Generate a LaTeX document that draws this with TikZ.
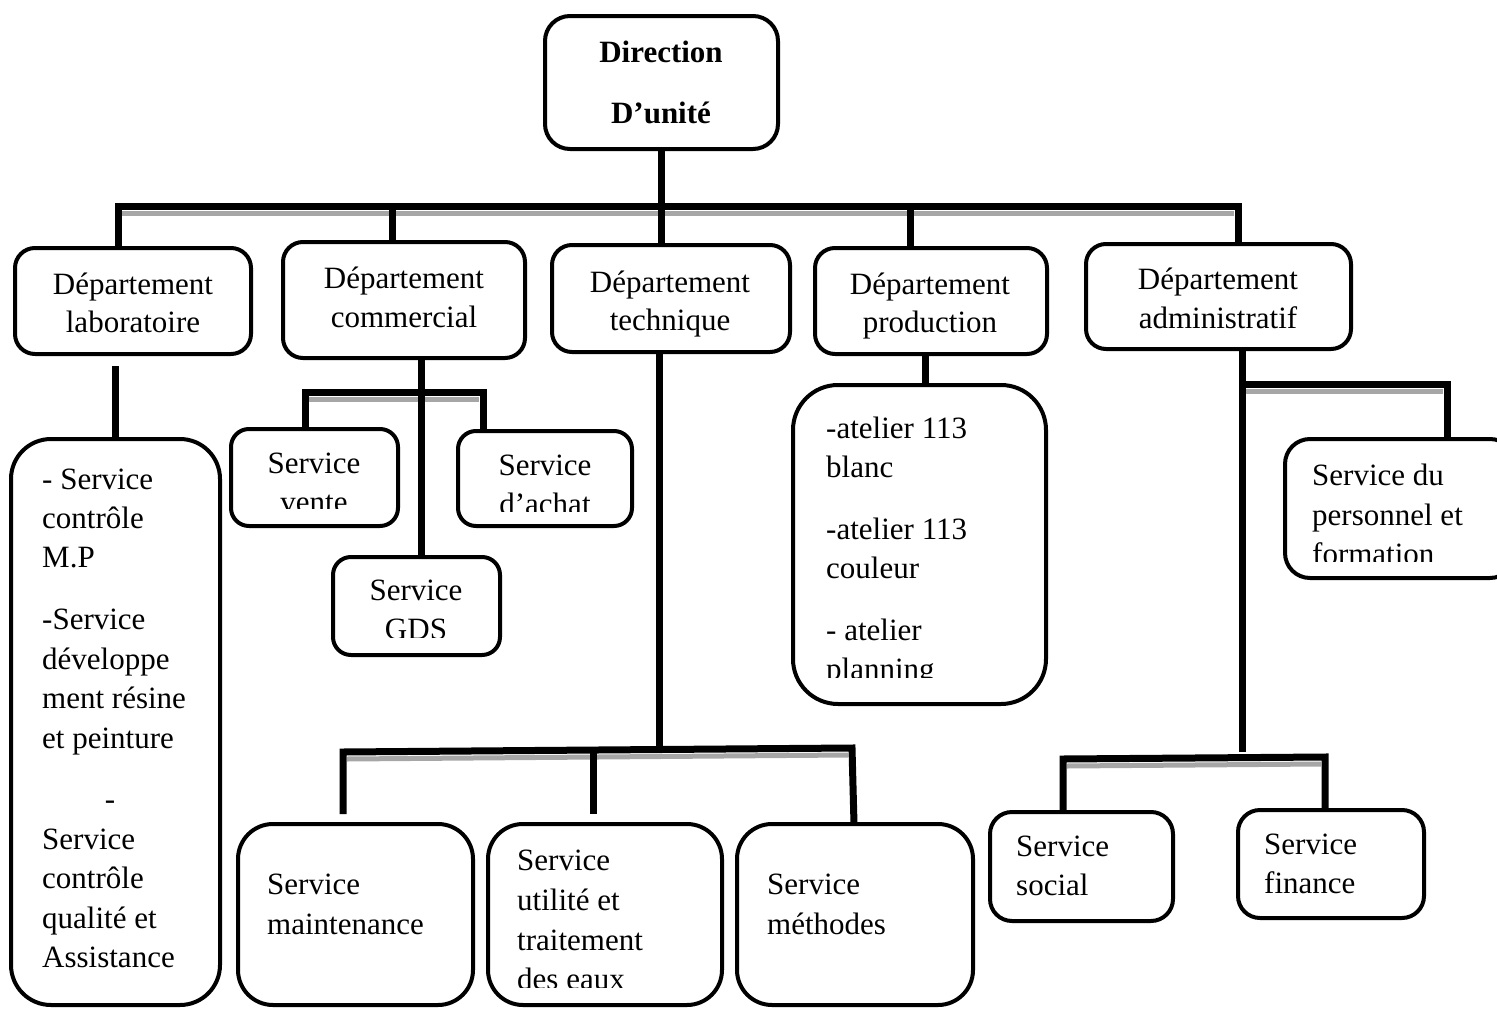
\documentclass[tikz,border=0pt]{standalone}
\usepackage{fontspec}
\setmainfont{Liberation Serif}
\newcommand\bx[6]{\node[box, rounded corners=#6, minimum width={#4-#2}, minimum height={#5-#3}] (#1) at ({(#2+#4)/2},{(#3+#5)/2}) {};}
\begin{document}
\begin{tikzpicture}[x=1pt,y=-1pt,
 box/.style={draw, line width=4pt, rectangle, inner sep=0pt},
 conn/.style={line width=7pt, line join=miter},
 shad/.style={line width=5pt, draw=black!35},
 txt/.style={font=\fontsize{31}{39}\selectfont, inner sep=0pt},
 bt/.style={font=\fontsize{31}{39}\selectfont\bfseries, inner sep=0pt}]
\useasboundingbox (0,0) rectangle (1497,1009);
% boxes
\bx{dir}{545}{16}{778}{149}{25}
\bx{dlab}{15}{248}{251}{354}{20}
\bx{dcom}{283}{242}{525}{358}{20}
\bx{dtech}{552}{245}{790}{352}{20}
\bx{dprod}{815}{248}{1047}{354}{20}
\bx{dadm}{1086}{244}{1351}{349}{20}
\bx{vente}{231}{429}{398}{526}{18}
\bx{achat}{458}{431}{632}{526}{18}
\bx{gds}{333}{557}{500}{655}{18}
\bx{lab}{11}{439}{220}{1005}{40}
\bx{prod}{793}{385}{1046}{704}{45}
\bx{pers}{1285}{439}{1515}{578}{25}
\bx{maint}{238}{824}{473}{1005}{35}
\bx{util}{488}{824}{722}{1005}{35}
\bx{meth}{737}{824}{973}{1005}{35}
\bx{social}{990}{812}{1173}{921}{22}
\bx{finance}{1238}{810}{1424}{918}{22}
% bus coordinates
\coordinate (b1) at (118,206);
\coordinate (b2) at (392,206);
\coordinate (b3) at (910,206);
\coordinate (b4) at (1238,206);
\coordinate (c1) at (305,392);
\coordinate (c2) at (483,392);
\coordinate (t1) at (343,752);
\coordinate (t2) at (593,751);
\coordinate (t3) at (852,748);
\coordinate (a0) at (1242,384);
\coordinate (a1) at (1447,384);
\coordinate (s1) at (1063,759);
\coordinate (s2) at (1325,757);
% shadows
\draw[shad] ([xshift=4pt,yshift=-7pt]b1) -- ([xshift=-4pt,yshift=-7pt]b4);
\draw[shad] ([xshift=4pt,yshift=-7pt]c1) -- ([xshift=-4pt,yshift=-7pt]c2);
\draw[shad] ([xshift=4pt,yshift=-7pt]t1) -- ([xshift=-4pt,yshift=-7pt]t3);
\draw[shad] ([xshift=4pt,yshift=-7pt]a0) -- ([xshift=-4pt,yshift=-7pt]a1);
\draw[shad] ([xshift=4pt,yshift=-7pt]s1) -- ([xshift=-4pt,yshift=-7pt]s2);
% top level
\draw[conn] (dir.south) -- (dir.south |- dtech.north);
\draw[conn] (b1 |- dlab.north) -- (b1) -- (b4) -- (b4 |- dadm.north);
\draw[conn] (b2) -- (b2 |- dcom.north);
\draw[conn] (b3) -- (b3 |- dprod.north);
% laboratoire
\draw[conn] ([yshift=-10pt]dlab.south -| 115,0) -- (lab.north -| 115,0);
% commercial
\draw[conn] (dcom.south -| 421,0) -- (gds.north -| 421,0);
\draw[conn] (c1 |- vente.north) -- (c1) -- (c2) -- (c2 |- achat.north);
% technique
\draw[conn] (dtech.south -| 659,0) -- (659,748);
\draw[conn] ([yshift=8pt]t1 |- maint.north) -- (t1) -- (t3) -- (854,824);
\draw[conn] (t2) -- ([yshift=8pt]t2 |- util.north);
% production
\draw[conn] (dprod.south -| 925,0) -- (prod.north -| 925,0);
% administratif
\draw[conn] (dadm.south -| a0) -- (1242,752);
\draw[conn] (a0) -- (a1) -- (a1 |- pers.north);
\draw[conn] (s1 |- social.north) -- (s1) -- (s2) -- (s2 |- finance.north);
% texts
\node[bt, anchor=base] (tdir1) at (661,62) {Direction};
\node[bt, anchor=base] (tdir2) at (661,123) {D’unité};
\node[txt, anchor=base] (tdl1) at (133,294) {Département};
\node[txt, anchor=base] (tdl2) at (133,332) {laboratoire};
\node[txt, anchor=base] (tdc1) at (404,288) {Département};
\node[txt, anchor=base] (tdc2) at (404,327) {commercial};
\node[txt, anchor=base] (tdt1) at (670,292) {Département};
\node[txt, anchor=base] (tdt2) at (670,330) {technique};
\node[txt, anchor=base] (tdp1) at (930,294) {Département};
\node[txt, anchor=base] (tdp2) at (930,332) {production};
\node[txt, anchor=base] (tda1) at (1218,289) {Département};
\node[txt, anchor=base] (tda2) at (1218,328) {administratif};
\begin{scope}
\clip (231,429) rectangle (398,508);
\node[txt, anchor=base] (tv1) at (314,473) {Service};
\node[txt, anchor=base] (tv2) at (314,512) {vente};
\end{scope}
\begin{scope}
\clip (458,431) rectangle (632,511);
\node[txt, anchor=base] (ta1) at (545,475) {Service};
\node[txt, anchor=base] (ta2) at (545,514) {d’achat};
\end{scope}
\begin{scope}
\clip (333,557) rectangle (500,637);
\node[txt, anchor=base] (tg1) at (416,600) {Service};
\node[txt, anchor=base] (tg2) at (416,639) {GDS};
\end{scope}
\foreach \t/\y [count=\i] in {- Service/489, contrôle/528, M.P/567, -Service/629, développe/669, ment résine/708, et peinture/748, Service/849, contrôle/888, qualité et/928, Assistance/967}
  \node[txt, anchor=base west] (tl\i) at (42,\y) {\t};
\node[txt, anchor=base] (tldash) at (110,809) {-};
\begin{scope}
\clip (793,385) rectangle (1046,677);
\foreach \t/\y [count=\i] in {-atelier 113/438, blanc/477, -atelier 113/539, couleur/578, - atelier/640, planning/679}
  \node[txt, anchor=base west] (tp\i) at (826,\y) {\t};
\end{scope}
\begin{scope}
\clip (1285,439) rectangle (1497,561);
\foreach \t/\y [count=\i] in {Service du/485, personnel et/525, formation/564}
  \node[txt, anchor=base west] (tpe\i) at (1312,\y) {\t};
\end{scope}
\node[txt, anchor=base west] (tm1) at (267,894) {Service};
\node[txt, anchor=base west] (tm2) at (267,934) {maintenance};
\begin{scope}
\clip (488,824) rectangle (722,987);
\foreach \t/\y [count=\i] in {Service/870, utilité et/910, traitement/950, des eaux/989}
  \node[txt, anchor=base west] (tu\i) at (517,\y) {\t};
\end{scope}
\node[txt, anchor=base west] (tme1) at (767,894) {Service};
\node[txt, anchor=base west] (tme2) at (767,934) {méthodes};
\node[txt, anchor=base west] (ts1) at (1016,856) {Service};
\node[txt, anchor=base west] (ts2) at (1016,895) {social};
\node[txt, anchor=base west] (tf1) at (1264,854) {Service};
\node[txt, anchor=base west] (tf2) at (1264,893) {finance};
\end{tikzpicture}
\end{document}
